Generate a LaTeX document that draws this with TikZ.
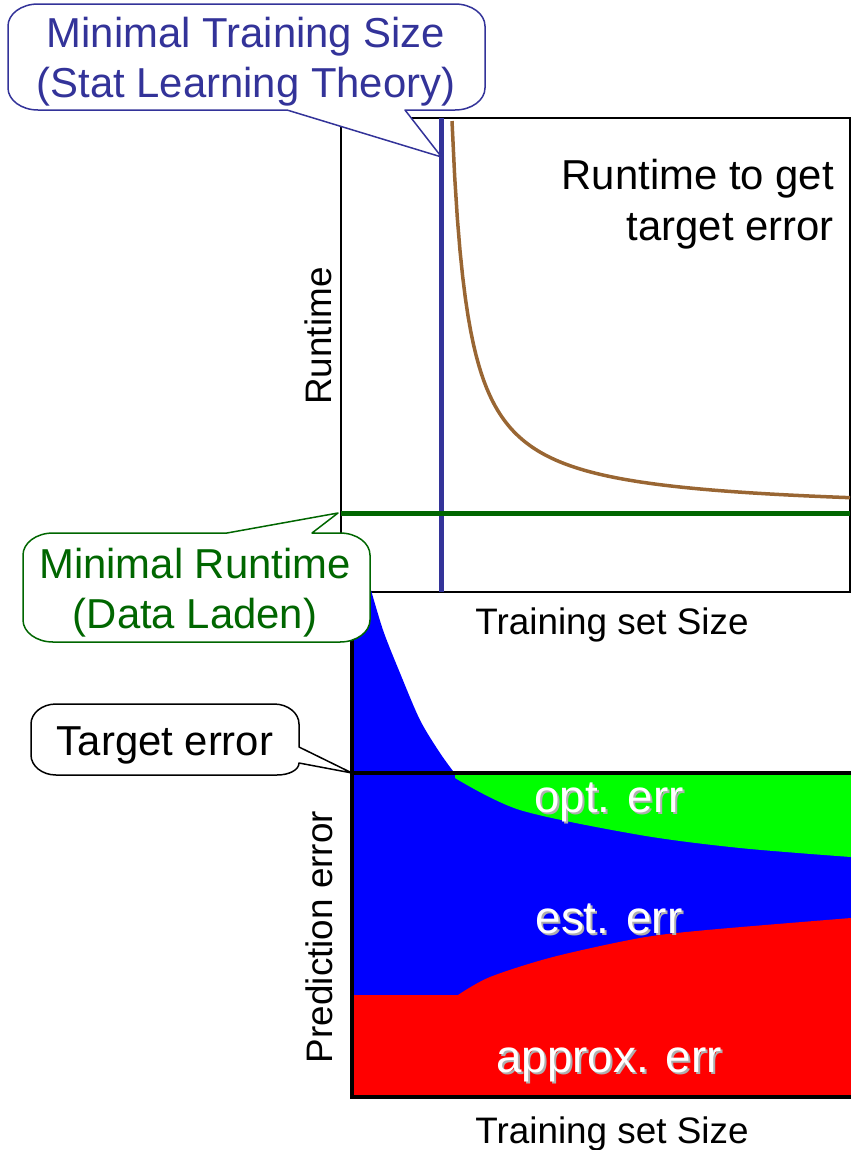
\documentclass[tikz,border=0pt]{standalone}
\usepackage{fontspec}
\setmainfont{Liberation Sans}
\definecolor{callblue}{RGB}{51,51,153}
\definecolor{darkgreen}{RGB}{0,102,0}
\definecolor{runbrown}{RGB}{153,102,51}
\definecolor{shadowgray}{RGB}{175,175,175}
\begin{document}
\begin{tikzpicture}[x=1bp,y=-1bp,
  bigtxt/.style={font={\fontsize{42}{50}\selectfont}, inner sep=0pt, anchor=base},
  axistxt/.style={font={\fontsize{37}{44}\selectfont}, inner sep=0pt, anchor=base},
  errtxt/.style={font={\fontsize{46}{54}\selectfont}, inner sep=0pt, anchor=base, text=white},
  errshadow/.style={errtxt, text=shadowgray},
  callout/.style={fill=white, line width=1.5bp, line join=round},
  thinframe/.style={line width=1.5bp},
  thickframe/.style={line width=4bp}]
\useasboundingbox (0,0) rectangle (851,1150);

% ---------- top chart ----------
\coordinate (ttl) at (341,118);
\coordinate (ttr) at (850,118);
\coordinate (tbl) at (341,592);
\coordinate (tbr) at (850,592);
\draw[thinframe] (ttl) -- (ttr) -- (tbr) -- (tbl) -- cycle;

\coordinate (vtop) at (441.5,118);
\coordinate (vbot) at (441.5,592);
\draw[callblue, line width=5bp] (vtop) -- (vbot);

\draw[runbrown, line width=3.5bp] plot[domain=452:850, samples=150] (\x,{513-6350/(\x-435.8)});

\coordinate (gl) at (341,513);
\coordinate (gr) at (850,513);
\draw[darkgreen, line width=5bp] (gl) -- (gr);

\node[bigtxt, anchor=base east] (rt1) at (834,189) {Runtime to get};
\node[bigtxt, anchor=base east] (rt2) at (834,240) {target error};
\node[axistxt, rotate=90] (ylab1) at (331,336) {Runtime};
\node[axistxt] (xlab1) at (612,634) {Training set Size};

% ---------- bottom chart ----------
\fill[blue] (352,583) -- (369,583) -- plot[smooth] coordinates {(369,583) (383,630) (400,673) (420,720) (440,753) (456,775)} -- (456,1097) -- (352,1097) -- cycle;
\fill[blue] (352,773) rectangle (851,1097);
\fill[green] (455,773) -- plot[smooth] coordinates {(455,778) (520,810) (640,835) (740,848) (851,857)} -- (851,773) -- cycle;
\fill[red] (352,995) -- plot[smooth] coordinates {(458,995) (490,977) (553,957) (640,938) (707,930) (851,918)} -- (851,1097) -- (352,1097) -- cycle;

\coordinate (tl) at (352,773);
\coordinate (tr) at (851,773);
\draw[thickframe] (tl) -- (tr);
\coordinate (btop) at (352,583);
\coordinate (borig) at (352,1097);
\coordinate (bright) at (851,1097);
\draw[thickframe] (btop) -- (borig) -- (bright);

\node[errshadow] (optS) at (611,814) {opt. err};
\node[errtxt] (opt) at (609,812) {opt. err};
\node[errshadow] (estS) at (611,935) {est. err};
\node[errtxt] (est) at (609,933) {est. err};
\node[errshadow] (appS) at (611,1074) {approx. err};
\node[errtxt] (app) at (609,1072) {approx. err};

\node[axistxt, rotate=90] (ylab2) at (332,937) {Prediction error};
\node[axistxt] (xlab2) at (612,1143) {Training set Size};

% ---------- callouts ----------
\draw[callout, draw=callblue] (38,4) -- (455,4) .. controls (471.6,4) and (485,13.9) .. (485,26)
  -- (485,88) .. controls (485,100.1) and (471.6,110) .. (455,110)
  -- (405,110) -- (vtop |- 0,157) -- (287,110) -- (38,110) .. controls (21.4,110) and (8,100.1) .. (8,88)
  -- (8,26) .. controls (8,13.9) and (21.4,4) .. (38,4) -- cycle;
\node[bigtxt, text=callblue] (c1a) at (246,47) {Minimal Training Size};
\node[bigtxt, text=callblue] (c1b) at (246,97) {(Stat Learning Theory)};

\draw[callout, draw=darkgreen] (53,533) -- (227,533) -- ([xshift=-3bp]gl) -- (312,533) -- (340,533)
  .. controls (356.6,533) and (370,542.9) .. (370,555)
  -- (370,620) .. controls (370,632.1) and (356.6,642) .. (340,642)
  -- (53,642) .. controls (36.4,642) and (23,632.1) .. (23,620)
  -- (23,555) .. controls (23,542.9) and (36.4,533) .. (53,533) -- cycle;
\node[bigtxt, text=darkgreen] (c2a) at (195,578) {Minimal Runtime};
\node[bigtxt, text=darkgreen] (c2b) at (195,628) {(Data Laden)};

\draw[callout, draw=black] (56,704) -- (274,704) .. controls (287.8,704) and (299,713) .. (299,724)
  -- (299,747) -- (tl) -- (299,763) .. controls (299,770) and (289,775) .. (277,775)
  -- (56,775) .. controls (42.2,775) and (31,766) .. (31,755)
  -- (31,724) .. controls (31,713) and (42.2,704) .. (56,704) -- cycle;
\node[bigtxt] (c3) at (165,755) {Target error};
\end{tikzpicture}
\end{document}
